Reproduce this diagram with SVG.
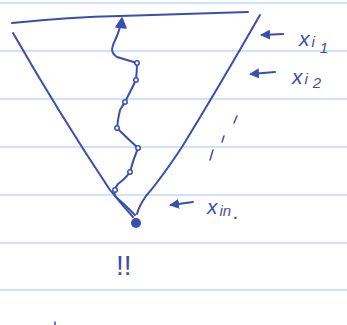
<svg xmlns="http://www.w3.org/2000/svg" width="347" height="325" viewBox="0 0 347 325">
<defs>
<style>
.rule{stroke:#cfe2fb;stroke-width:2.2}
.ink{fill:none;stroke:#3a4eaf;stroke-width:2;stroke-linecap:round;stroke-linejoin:round}
.thin{fill:none;stroke:#3a4eaf;stroke-width:1.5;stroke-linecap:round}
.lbl{font-family:"Liberation Sans",sans-serif;font-size:21px;fill:#3a4eaf;font-style:italic}
.sub{font-size:15px}
.bead{fill:#ffffff;stroke:#3a4eaf;stroke-width:1.5}
</style>
<marker id="ah" viewBox="0 0 10 10" refX="8" refY="5" markerWidth="5" markerHeight="5" orient="auto"><path d="M0,0 L10,5 L0,10 Z" fill="#3a4eaf"/></marker>
</defs>
<rect width="347" height="325" fill="#ffffff"/>
<g id="rules">
<line class="rule" x1="0" y1="3" x2="347" y2="3"/>
<line class="rule" x1="0" y1="51" x2="347" y2="51"/>
<line class="rule" x1="0" y1="99" x2="347" y2="99"/>
<line class="rule" x1="0" y1="147" x2="347" y2="147"/>
<line class="rule" x1="0" y1="195" x2="347" y2="195"/>
<line class="rule" x1="0" y1="243" x2="347" y2="243"/>
<line class="rule" x1="0" y1="290" x2="347" y2="290"/>
</g>
<g id="cone">
<path class="ink" d="M12,23 Q70,17 120,16 L248,12"/>
<path class="ink" d="M13,33 Q60,115 110,190 Q122,205 133,217"/>
<path class="ink" d="M260,15 Q220,85 182,147 Q160,180 146,196 Q139,206 137,214"/>
<circle cx="136" cy="223" r="5" fill="#3a4eaf"/>
</g>
<g id="path-walk">
<path class="ink" d="M135,215 Q125,205 115,196 Q113,190 118,184 Q126,178 130,172 Q133,160 138,148 Q126,137 117,128 Q118,118 120,110 Q124,104 126,100 Q132,88 136,80 Q137,70 137,63 Q127,60 117,57 Q110,53 113,45 Q118,35 121,24"/>
<path d="M116,27 L122,18 L126,28 Z" fill="#3a4eaf" stroke="#3a4eaf" stroke-width="1.5" stroke-linejoin="round"/>
<circle class="bead" cx="137" cy="63" r="2.2"/>
<circle class="bead" cx="136" cy="80" r="2.2"/>
<circle class="bead" cx="125" cy="102" r="2.2"/>
<circle class="bead" cx="117" cy="128" r="2.2"/>
<circle class="bead" cx="138" cy="148" r="2.2"/>
<circle class="bead" cx="130" cy="172" r="2.2"/>
<circle class="bead" cx="115" cy="190" r="2.2"/>
</g>
<g id="connectors">
<line class="ink" x1="283" y1="34" x2="262" y2="35" marker-end="url(#ah)"/>
<line class="ink" x1="275" y1="72" x2="251" y2="74" marker-end="url(#ah)"/>
<line class="ink" x1="193" y1="202" x2="171" y2="205" marker-end="url(#ah)"/>
</g>
<g id="label-xi1"><text class="lbl" x="299" y="46">x<tspan class="sub" dx="2" dy="1">i</tspan><tspan class="sub" dx="5" dy="6">1</tspan></text></g>
<g id="label-xi2"><text class="lbl" x="292" y="84">x<tspan class="sub" dx="2" dy="0">i</tspan><tspan class="sub" dx="5" dy="4">2</tspan></text></g>
<g id="label-xin"><text class="lbl" x="207" y="214">x<tspan class="sub" dx="2" dy="2">in</tspan><tspan dx="2" dy="3">.</tspan></text></g>
<g id="dashes">
<line class="thin" x1="237" y1="116" x2="234" y2="123"/>
<line class="thin" x1="224" y1="136" x2="222" y2="142"/>
<line class="thin" x1="213" y1="150" x2="210" y2="160"/>
</g>
<g id="bang"><text x="116" y="275" style="font-family:'Liberation Sans',sans-serif;font-size:28px;fill:#3a4eaf">!!</text></g>
<line class="thin" x1="55" y1="322" x2="55" y2="325"/>
</svg>
